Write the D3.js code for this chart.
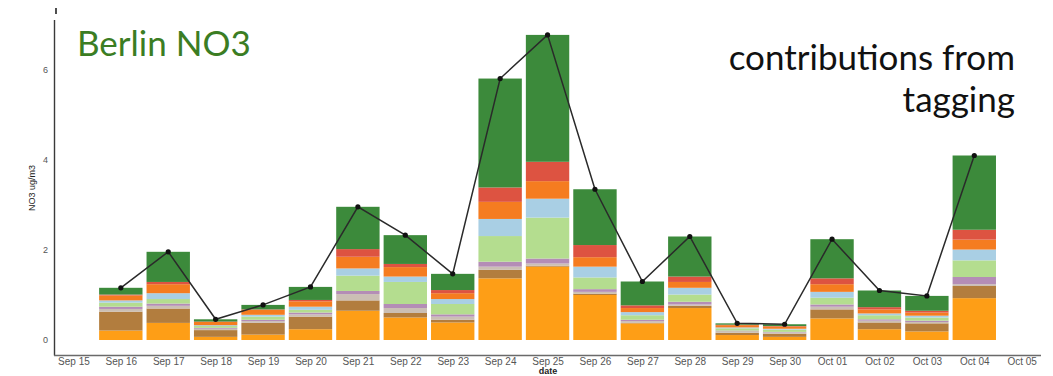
<!DOCTYPE html>
<html>
<head>
<meta charset="utf-8">
<script src="https://cdn.jsdelivr.net/npm/d3@7"></script>
<style>
  html, body { margin: 0; padding: 0; background: #fff; }
  svg { display: block; }
</style>
</head>
<body>
<svg id="chart" width="1053" height="376"></svg>
<script>
// Daily NO3 at Berlin, split into tagged source contributions (ug/m3)
const dates = ["09-16","09-17","09-18","09-19","09-20","09-21","09-22","09-23","09-24","09-25",
               "09-26","09-27","09-28","09-29","09-30","10-01","10-02","10-03","10-04"];

const tag1 = [0.21,0.38,0.07,0.12,0.24,0.65,0.50,0.39,1.37,1.63,1.00,0.37,0.71,0.11,0.07,0.48,0.24,0.19,0.93];
const tag2 = [0.42,0.32,0.15,0.26,0.28,0.23,0.10,0.06,0.19,0.02,0.03,0.01,0.05,0.05,0.07,0.20,0.15,0.18,0.27];
const tag3 = [0.06,0.06,0.03,0.04,0.05,0.14,0.11,0.07,0.07,0.05,0.04,0.04,0.03,0.04,0.03,0.06,0.04,0.03,0.04];
const tag4 = [0.05,0.05,0.02,0.03,0.04,0.07,0.09,0.05,0.11,0.11,0.06,0.03,0.06,0.01,0.01,0.05,0.03,0.03,0.16];
const tag5 = [0.09,0.10,0.04,0.07,0.06,0.34,0.49,0.23,0.57,0.91,0.26,0.10,0.16,0.05,0.05,0.15,0.09,0.07,0.37];
const tag6 = [0.05,0.13,0.02,0.04,0.07,0.16,0.12,0.11,0.38,0.42,0.24,0.07,0.15,0.02,0.02,0.13,0.04,0.04,0.24];
const tag7 = [0.11,0.20,0.07,0.11,0.12,0.26,0.21,0.13,0.38,0.39,0.21,0.09,0.13,0.05,0.05,0.17,0.09,0.07,0.22];
const tag8 = [0.02,0.05,0.01,0.01,0.03,0.17,0.07,0.07,0.32,0.43,0.27,0.06,0.12,0.01,0.01,0.13,0.05,0.04,0.22];
const tag9 = [0.15,0.67,0.05,0.10,0.29,0.94,0.64,0.36,2.42,2.82,1.24,0.53,0.89,0.03,0.04,0.87,0.37,0.33,1.65];

const seriesKeys = ["tag1","tag2","tag3","tag4","tag5","tag6","tag7","tag8","tag9"];
const seriesValues = [tag1,tag2,tag3,tag4,tag5,tag6,tag7,tag8,tag9];
const seriesColors = ["#fe9e16","#b27d3e","#cbbfb4","#b48db6","#b4dd8f","#a9cfe4","#f57c20","#dd5341","#3c8a3b"];

const yTicks = [0, 2, 4, 6];
const xTickStart = "09-15", xTickEnd = "10-05";

const parse = d3.timeParse("%m-%d");
const fmt = d3.timeFormat("%b %d");

const rows = dates.map((d, i) => {
  const r = { date: parse(d) };
  seriesKeys.forEach((k, j) => r[k] = seriesValues[j][i]);
  return r;
});
const totals = rows.map(r => ({ date: r.date, total: d3.sum(seriesKeys, k => r[k]) }));

const svg = d3.select("#chart");

const x = d3.scaleTime().domain([parse(xTickStart), parse(xTickEnd)]).range([73.4, 1021.7]);
const y = d3.scaleLinear().domain([0, 6]).range([340, 70]);
const dayW = x(parse("09-16")) - x(parse("09-15"));
const barW = dayW * 0.915;

const stack = d3.stack().keys(seriesKeys)(rows);

const plot = svg.append("g");

plot.selectAll("g.layer")
  .data(stack)
  .join("g")
  .attr("class", "layer")
  .attr("fill", (d, i) => seriesColors[i])
  .selectAll("rect")
  .data(d => d)
  .join("rect")
  .attr("x", d => x(d.data.date) - barW / 2)
  .attr("width", barW)
  .attr("y", d => y(d[1]))
  .attr("height", d => Math.max(0, y(d[0]) - y(d[1])));

// total line with markers
const line = d3.line().x(d => x(d.date)).y(d => y(d.total));
plot.append("path")
  .datum(totals)
  .attr("fill", "none")
  .attr("stroke", "#2a2a2a")
  .attr("stroke-width", 1.5)
  .attr("d", line);
plot.selectAll("circle.pt")
  .data(totals)
  .join("circle")
  .attr("class", "pt")
  .attr("cx", d => x(d.date))
  .attr("cy", d => y(d.total))
  .attr("r", 2.6)
  .attr("fill", "#111");

// axes
const axisColor = "#3a3a3a";
svg.append("line").attr("x1", 54.5).attr("x2", 54.5).attr("y1", 20).attr("y2", 355.5)
  .attr("stroke", axisColor).attr("stroke-width", 1.4);
svg.append("line").attr("x1", 54).attr("x2", 1041).attr("y1", 355.5).attr("y2", 355.5)
  .attr("stroke", "#6a6a6a").attr("stroke-width", 1.4);
svg.append("line").attr("x1", 56).attr("x2", 56).attr("y1", 8).attr("y2", 14)
  .attr("stroke", "#222").attr("stroke-width", 1.6);

const tickFont = "'Liberation Sans', Arial, sans-serif";

const yAxis = d3.axisLeft(y).tickValues(yTicks).tickSize(0).tickPadding(0).tickFormat(d3.format("d"));
const gy = svg.append("g").attr("transform", "translate(48,0)").call(yAxis);
gy.select(".domain").remove();
gy.selectAll("text").attr("font-family", tickFont).attr("font-size", 9).attr("fill", "#555");

const xTicks = d3.timeDay.range(parse(xTickStart), d3.timeDay.offset(parse(xTickEnd), 1));
const xAxis = d3.axisBottom(x).tickValues(xTicks).tickSize(0).tickPadding(0).tickFormat(fmt);
const gx = svg.append("g").attr("transform", "translate(0,358)").call(xAxis);
gx.select(".domain").remove();
gx.selectAll("text").attr("font-family", tickFont).attr("font-size", 10).attr("fill", "#555")
  .attr("dy", "0.71em");

svg.append("text")
  .attr("x", 548).attr("y", 374)
  .attr("text-anchor", "middle")
  .attr("font-family", tickFont).attr("font-size", 9).attr("font-weight", "bold")
  .attr("fill", "#222")
  .text("date");

svg.append("text")
  .attr("transform", "translate(35,188) rotate(-90)")
  .attr("text-anchor", "middle")
  .attr("font-family", tickFont).attr("font-size", 9)
  .attr("fill", "#222")
  .text("NO3 ug/m3");

// annotations
svg.append("text")
  .attr("x", 77).attr("y", 56)
  .attr("font-family", "Lato, 'Open Sans', sans-serif").attr("font-size", 35)
  .attr("fill", "#3b7d23")
  .text("Berlin NO3");

svg.append("text")
  .attr("x", 1015).attr("y", 70)
  .attr("text-anchor", "end")
  .attr("font-family", "Lato, 'Open Sans', sans-serif").attr("font-size", 35)
  .attr("fill", "#111")
  .text("contributions from");
svg.append("text")
  .attr("x", 1015).attr("y", 112)
  .attr("text-anchor", "end")
  .attr("font-family", "Lato, 'Open Sans', sans-serif").attr("font-size", 35)
  .attr("fill", "#111")
  .text("tagging");
</script>
</body>
</html>
